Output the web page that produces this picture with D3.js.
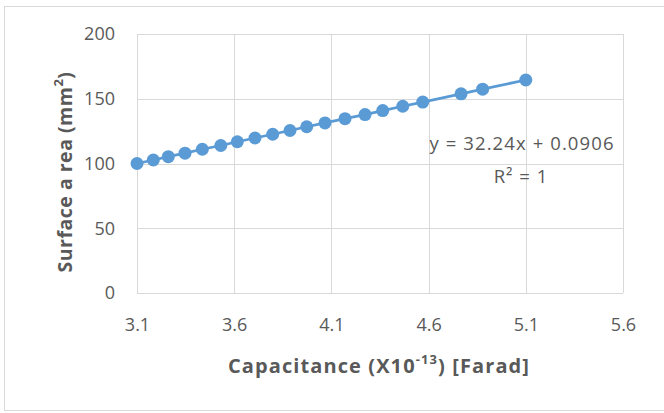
<!DOCTYPE html>
<html>
<head>
<meta charset="utf-8">
<script src="https://cdn.jsdelivr.net/npm/d3@7"></script>
<style>
  body { margin: 0; background: #fff; }
  text { font-family: "Open Sans", "Noto Sans", sans-serif; }
</style>
</head>
<body>
<div id="chart"></div>
<script>
// Data
const capacitance = [3.10, 3.184, 3.261, 3.347, 3.436, 3.531, 3.616, 3.707, 3.798, 3.887,
                     3.973, 4.067, 4.170, 4.273, 4.364, 4.467, 4.570, 4.767, 4.878, 5.100];
const surfaceArea = [100, 102.7, 105.3, 108.0, 111.0, 113.9, 116.8, 119.7, 122.6, 125.5,
                     128.4, 131.3, 134.6, 137.8, 140.9, 144.2, 147.4, 153.8, 157.4, 164.5];
const xTicks = [3.1, 3.6, 4.1, 4.6, 5.1, 5.6];
const yTicks = [0, 50, 100, 150, 200];
const equationText = "y = 32.24x + 0.0906";
const rSquaredText = "R² = 1";

const data = capacitance.map((c, i) => ({ x: c, y: surfaceArea[i] }));

const width = 664, height = 413;
const plot = { left: 137, right: 623, top: 34, bottom: 293 };

const svg = d3.select("#chart").append("svg")
    .attr("width", width)
    .attr("height", height);

// chart border
svg.append("rect")
    .attr("x", 4.5).attr("y", 6.5)
    .attr("width", width + 10).attr("height", 404)
    .attr("fill", "#fff")
    .attr("stroke", "#d9d9d9");

const xScale = d3.scaleLinear().domain([3.1, 5.6]).range([plot.left, plot.right]);
const yScale = d3.scaleLinear().domain([0, 200]).range([plot.bottom, plot.top]);

// gridlines
svg.append("g").selectAll("line.gx")
    .data(xTicks).enter().append("line")
    .attr("x1", d => Math.round(xScale(d)) + 0.5).attr("x2", d => Math.round(xScale(d)) + 0.5)
    .attr("y1", plot.top).attr("y2", plot.bottom)
    .attr("stroke", "#d9d9d9");
svg.append("g").selectAll("line.gy")
    .data(yTicks).enter().append("line")
    .attr("x1", plot.left).attr("x2", plot.right)
    .attr("y1", d => Math.round(yScale(d)) + 0.5).attr("y2", d => Math.round(yScale(d)) + 0.5)
    .attr("stroke", "#d9d9d9");

// axes (labels only)
const xAxis = svg.append("g")
    .attr("transform", `translate(0, ${plot.bottom})`)
    .call(d3.axisBottom(xScale).tickValues(xTicks).tickFormat(d3.format(".1f")).tickSize(0).tickPadding(25));
const yAxis = svg.append("g")
    .attr("transform", `translate(${plot.left}, 0)`)
    .call(d3.axisLeft(yScale).tickValues(yTicks).tickSize(0).tickPadding(22));
[xAxis, yAxis].forEach(a => {
    a.select(".domain").remove();
    a.selectAll("text")
        .attr("fill", "#595959")
        .style("font-size", "18px")
        .style("font-family", "'Open Sans', sans-serif");
});

// line and markers
const line = d3.line().x(d => xScale(d.x)).y(d => yScale(d.y));
svg.append("path")
    .datum(data)
    .attr("d", line)
    .attr("fill", "none")
    .attr("stroke", "#5b9bd5")
    .attr("stroke-width", 2.75);
svg.selectAll(".dot")
    .data(data).enter().append("circle")
    .attr("class", "dot")
    .attr("cx", d => xScale(d.x))
    .attr("cy", d => yScale(d.y))
    .attr("r", 6.5)
    .attr("fill", "#5b9bd5");

// trendline label
svg.append("text")
    .attr("x", 522).attr("y", 150)
    .attr("text-anchor", "middle")
    .attr("fill", "#595959")
    .style("font-size", "18.5px")
    .style("letter-spacing", "1.1px")
    .text(equationText);
svg.append("text")
    .attr("x", 521).attr("y", 183)
    .attr("text-anchor", "middle")
    .attr("fill", "#595959")
    .style("font-size", "18.5px")
    .style("letter-spacing", "1px")
    .text(rSquaredText);

// axis titles
const xTitle = svg.append("text")
    .attr("x", 379).attr("y", 373)
    .attr("text-anchor", "middle")
    .attr("fill", "#595959")
    .style("font-size", "20px")
    .style("letter-spacing", "1.1px")
    .style("font-weight", "bold");
xTitle.append("tspan").text("Capacitance (X10");
xTitle.append("tspan").attr("dy", -9).style("font-size", "13px").text("-13");
xTitle.append("tspan").attr("dy", 9).text(") [Farad]");

const yTitle = svg.append("text")
    .attr("transform", "translate(72, 172) rotate(-90)")
    .attr("text-anchor", "middle")
    .attr("fill", "#595959")
    .style("font-size", "19.5px")
    .style("letter-spacing", "0.5px")
    .style("font-weight", "bold");
yTitle.append("tspan").text("Surface a rea  (mm");
yTitle.append("tspan").attr("dy", -9).style("font-size", "13px").text("2");
yTitle.append("tspan").attr("dy", 9).text(")");
</script>
</body>
</html>
